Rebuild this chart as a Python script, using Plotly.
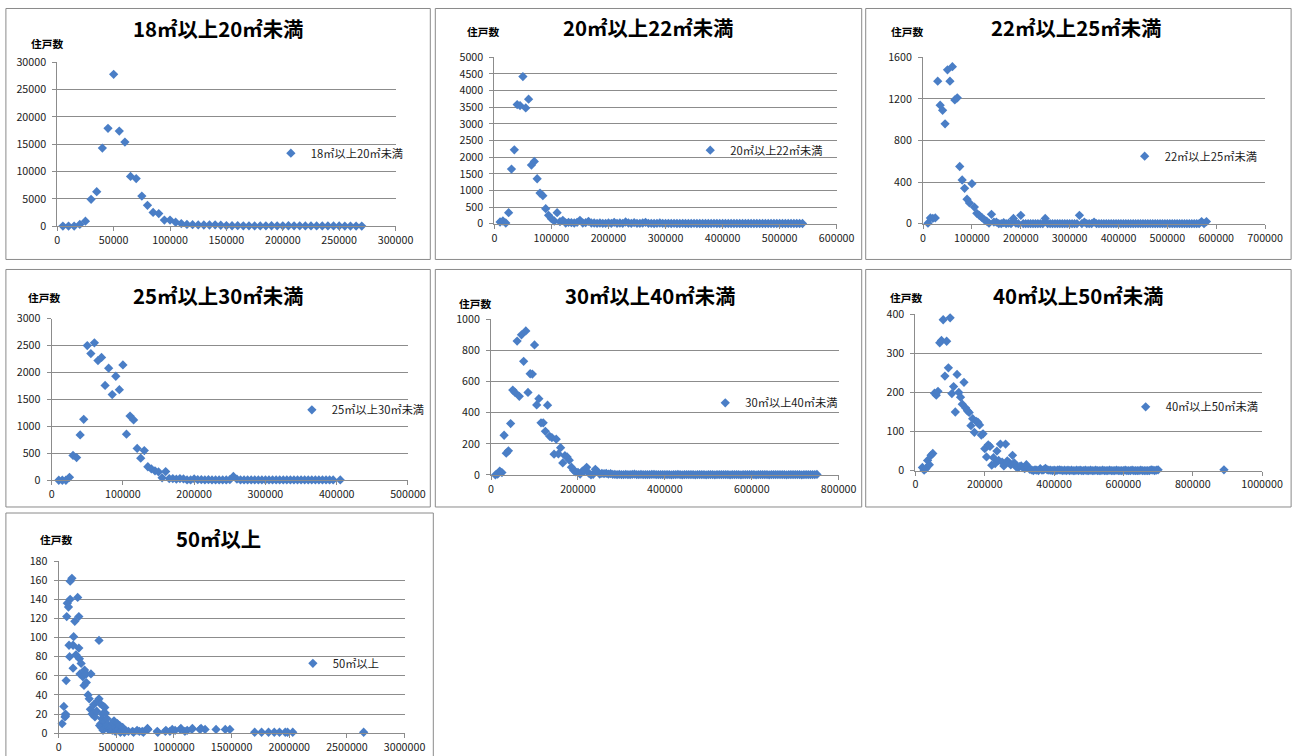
import plotly.graph_objects as go

# ---------------- data ----------------
TITLES = ["18㎡以上20㎡未満", "20㎡以上22㎡未満", "22㎡以上25㎡未満",
          "25㎡以上30㎡未満", "30㎡以上40㎡未満", "40㎡以上50㎡未満", "50㎡以上"]
Y_LABEL = "住戸数"

P1_X = [5000, 10000, 15000, 20000, 25000, 30000, 35000, 40000, 45000, 50000,
        55000, 60000, 65000, 70000, 75000, 80000, 85000, 90000, 95000, 100000,
        105000, 110000, 115000, 120000, 125000, 130000, 135000, 140000, 145000, 150000,
        155000, 160000, 165000, 170000, 175000, 180000, 185000, 190000, 195000, 200000,
        205000, 210000, 215000, 220000, 225000, 230000, 235000, 240000, 245000, 250000,
        255000, 260000, 265000, 270000]
P1_Y = [0, 0, 0, 300, 900, 4900, 6300, 14300, 17900, 27800,
        17400, 15400, 9100, 8700, 5500, 3800, 2500, 2300, 1100, 1100,
        700, 450, 300, 250, 220, 200, 200, 240, 150, 100,
        60, 80, 50, 40, 30, 30, 40, 60, 40, 40,
        60, 50, 40, 30, 30, 30, 20, 20, 20, 20,
        10, 10, 10, 10]

P2_X = [10000, 15000, 20000, 25000, 30000, 35000, 40000, 45000, 50000, 55000,
        60000, 65000, 70000, 75000, 80000, 85000, 90000, 95000, 100000, 105000,
        110000, 115000, 120000, 125000, 130000, 135000, 140000, 145000, 150000, 155000,
        160000, 165000, 170000, 175000, 180000, 185000, 190000, 195000, 200000, 205000,
        210000, 215000, 220000, 225000, 230000, 235000, 240000, 245000, 250000, 255000,
        260000, 265000, 270000, 275000, 280000, 285000, 290000, 295000, 300000, 305000,
        310000, 315000, 320000, 325000, 330000, 335000, 340000, 345000, 350000, 355000,
        360000, 365000, 370000, 375000, 380000, 385000, 390000, 395000, 400000, 405000,
        410000, 415000, 420000, 425000, 430000, 435000, 440000, 445000, 450000, 455000,
        460000, 465000, 470000, 475000, 480000, 485000, 490000, 495000, 500000, 505000,
        510000, 515000, 520000, 525000, 530000, 535000, 540000]
P2_Y = [50, 80, 20, 330, 1640, 2220, 3580, 3550, 4420, 3480,
        3740, 1760, 1870, 1350, 920, 840, 450, 250, 150, 80,
        330, 60, 100, 20, 40, 30, 20, 40, 100, 20,
        30, 70, 20, 20, 10, 20, 10, 10, 20, 10,
        40, 10, 20, 10, 50, 20, 10, 30, 10, 10,
        20, 40, 10, 10, 5, 10, 20, 10, 5, 10,
        5, 10, 5, 5, 10, 5, 5, 5, 10, 5,
        5, 5, 5, 5, 5, 10, 5, 5, 5, 5,
        5, 5, 5, 5, 5, 5, 5, 5, 5, 5,
        5, 5, 5, 5, 5, 5, 5, 5, 5, 5,
        5, 5, 5, 5, 5, 5, 5]

P3_X = [10000, 15000, 20000, 25000, 30000, 35000, 40000, 45000, 50000, 55000,
        60000, 65000, 70000, 75000, 80000, 85000, 90000, 95000, 100000, 105000,
        110000, 115000, 120000, 125000, 130000, 135000, 140000, 145000, 150000, 155000,
        160000, 165000, 170000, 175000, 180000, 185000, 190000, 195000, 200000, 205000,
        210000, 215000, 220000, 225000, 230000, 235000, 240000, 245000, 250000, 255000,
        260000, 265000, 270000, 275000, 280000, 285000, 290000, 295000, 300000, 305000,
        310000, 315000, 320000, 325000, 330000, 335000, 340000, 345000, 350000, 355000,
        360000, 365000, 370000, 375000, 380000, 385000, 390000, 395000, 400000, 405000,
        410000, 415000, 420000, 425000, 430000, 435000, 440000, 445000, 450000, 455000,
        460000, 465000, 470000, 475000, 480000, 485000, 490000, 495000, 500000, 505000,
        510000, 515000, 520000, 525000, 530000, 535000, 540000, 545000, 550000, 555000,
        560000, 565000, 570000, 575000, 580000]
P3_Y = [5, 55, 50, 55, 1370, 1140, 1090, 960, 1480, 1370,
        1510, 1190, 1210, 550, 420, 340, 235, 200, 385, 160,
        100, 80, 60, 40, 25, 5, 90, 15, 15, 0,
        0, 10, 0, 5, 0, 50, 5, 0, 80, 0,
        0, 0, 0, 0, 0, 0, 0, 0, 50, 0,
        0, 0, 0, 0, 0, 0, 0, 0, 0, 0,
        0, 0, 80, 0, 15, 0, 0, 0, 15, 0,
        0, 0, 0, 0, 0, 0, 0, 0, 0, 0,
        0, 0, 0, 0, 0, 0, 0, 0, 0, 0,
        0, 0, 0, 0, 0, 0, 0, 0, 0, 0,
        0, 0, 0, 0, 0, 0, 0, 0, 0, 0,
        0, 0, 20, 0, 20]

P4_X = [10000, 15000, 20000, 25000, 30000, 35000, 40000, 45000, 50000, 55000,
        60000, 65000, 70000, 75000, 80000, 85000, 90000, 95000, 100000, 105000,
        110000, 115000, 120000, 125000, 130000, 135000, 140000, 145000, 150000, 155000,
        160000, 165000, 170000, 175000, 180000, 185000, 190000, 195000, 200000, 205000,
        210000, 215000, 220000, 225000, 230000, 235000, 240000, 245000, 250000, 255000,
        260000, 265000, 270000, 275000, 280000, 285000, 290000, 295000, 300000, 305000,
        310000, 315000, 320000, 325000, 330000, 335000, 340000, 345000, 350000, 355000,
        360000, 365000, 370000, 375000, 380000, 385000, 390000, 395000,
        405000]
P4_Y = [0, 0, 0, 55, 460, 420, 840, 1130, 2500, 2350,
        2550, 2220, 2280, 1760, 2080, 1590, 1930, 1680, 2140, 855,
        1190, 1120, 590, 410, 550, 250, 210, 175, 155, 45,
        160, 30, 30, 20, 30, 25, 5, 5, 25, 10,
        10, 5, 10, 5, 5, 5, 5, 5, 10, 70,
        20, 5, 5, 5, 5, 5, 5, 5, 5, 5,
        5, 5, 5, 5, 5, 5, 5, 5, 5, 5,
        5, 5, 5, 5, 5, 5, 5, 5,
        5]

P5_X = [10000, 15000, 20000, 25000, 30000, 35000, 40000, 45000, 50000, 55000,
        60000, 65000, 70000, 75000, 80000, 85000, 90000, 95000, 100000, 105000,
        110000, 115000, 120000, 125000, 130000, 135000, 140000, 145000, 150000, 155000,
        160000, 165000, 170000, 175000, 180000, 185000, 190000, 195000, 200000, 205000,
        210000, 215000, 220000, 225000, 230000, 235000, 240000, 245000, 250000, 255000,
        260000, 265000, 270000, 275000, 280000, 285000, 290000, 295000, 300000, 305000,
        310000, 315000, 320000, 325000, 330000, 335000, 340000, 345000, 350000, 355000,
        360000, 365000, 370000, 375000, 380000, 385000, 390000, 395000, 400000, 405000,
        410000, 415000, 420000, 425000, 430000, 435000, 440000, 445000, 450000, 455000,
        460000, 465000, 470000, 475000, 480000, 485000, 490000, 495000, 500000, 505000,
        510000, 515000, 520000, 525000, 530000, 535000, 540000, 545000, 550000, 555000,
        560000, 565000, 570000, 575000, 580000, 585000, 590000, 595000, 600000, 605000,
        610000, 615000, 620000, 625000, 630000, 635000, 640000, 645000, 650000, 655000,
        660000, 665000, 670000, 675000, 680000, 685000, 690000, 695000, 700000, 705000,
        710000, 715000, 720000, 725000, 730000, 735000, 740000, 745000, 750000]
P5_Y = [0, 5, 25, 15, 255, 140, 155, 330, 545, 530,
        860, 505, 900, 730, 925, 530, 650, 648, 835, 450,
        490, 335, 335, 280, 448, 248, 240, 133, 230, 135,
        175, 77, 124, 116, 95, 50, 30, 19, 17, 6,
        24, 26, 49, 11, 0, 4, 36, 21, 6, 10,
        8, 10, 5, 8, 4, 3, 2, 3, 2, 2,
        3, 2, 2, 3, 5, 2, 2, 3, 2, 2,
        2, 2, 3, 4, 2, 2, 2, 2, 2, 2,
        2, 1, 2, 2, 3, 2, 1, 2, 2, 2,
        2, 2, 1, 2, 2, 2, 2, 1, 2, 2,
        2, 1, 2, 2, 2, 2, 2, 2, 1, 2,
        2, 2, 2, 1, 2, 2, 2, 2, 2, 2,
        1, 2, 2, 2, 2, 2, 1, 2, 2, 2,
        2, 2, 2, 2, 1, 2, 2, 2, 2, 2,
        2, 1, 2, 2, 2, 2, 2, 2, 3]

P6_X = [20000, 25000, 30000, 35000, 40000, 45000, 50000, 55000, 60000, 65000,
        70000, 75000, 80000, 85000, 90000, 95000, 100000, 105000, 110000, 115000,
        120000, 125000, 130000, 135000, 140000, 145000, 150000, 155000, 160000, 165000,
        170000, 175000, 180000, 185000, 190000, 195000, 200000, 205000, 210000, 215000,
        220000, 225000, 230000, 235000, 240000, 245000, 250000, 255000, 260000, 265000,
        270000, 275000, 280000, 285000, 290000, 295000, 300000, 305000, 310000, 315000,
        320000, 325000, 330000, 335000, 340000, 345000, 350000, 355000, 360000, 365000,
        370000, 375000, 380000, 385000, 390000, 395000, 400000, 405000, 410000, 415000,
        420000, 425000, 430000, 435000, 440000, 445000, 450000, 455000, 460000, 465000,
        470000, 475000, 480000, 485000, 490000, 495000, 500000, 505000, 510000, 515000,
        520000, 525000, 530000, 535000, 540000, 545000, 550000, 555000, 560000, 565000,
        570000, 575000, 580000, 585000, 590000, 595000, 600000, 605000, 610000, 615000,
        620000, 625000, 630000, 635000, 640000, 645000, 650000, 655000, 660000, 665000,
        670000, 675000, 680000, 685000, 690000, 695000, 700000,
        890000]
P6_Y = [8, 1, 5, 26, 15, 39, 44, 198, 193, 203,
        327, 333, 386, 242, 331, 263, 391, 197, 215, 150,
        246, 200, 188, 170, 226, 160, 153, 149, 115, 133,
        98, 126, 124, 117, 91, 94, 56, 35, 66, 62,
        14, 33, 18, 50, 26, 68, 22, 12, 68, 25,
        20, 15, 39, 20, 10, 8, 10, 12, 8, 5,
        15, 8, 3, 2, 0, 2, 1, 0, 5, 1,
        2, 6, 2, 1, 1, 0, 1, 0, 1, 2,
        1, 0, 1, 0, 1, 0, 1, 0, 0, 1,
        0, 1, 0, 0, 1, 0, 0, 1, 0, 0,
        1, 0, 0, 0, 1, 0, 0, 0, 1, 0,
        0, 0, 1, 0, 0, 0, 0, 1, 0, 0,
        0, 1, 0, 0, 0, 0, 1, 0, 0, 0,
        0, 0, 2, 1, 0, 1, 2,
        2]

P7_X = [30000, 45000, 55000, 60000, 60000, 65000, 70000, 75000, 85000, 90000,
        95000, 100000, 100000, 115000, 125000, 125000, 130000, 140000, 150000, 165000,
        175000, 175000, 180000, 185000, 195000, 210000, 220000, 225000, 240000, 240000,
        255000, 265000, 275000, 280000, 290000, 305000, 315000, 330000, 340000, 350000,
        350000, 355000, 360000, 365000, 370000, 375000, 380000, 385000, 390000, 395000,
        400000, 405000, 410000, 415000, 420000, 425000, 430000, 435000, 445000, 450000,
        460000, 465000, 470000, 480000, 490000, 495000, 505000, 510000, 520000, 530000,
        535000, 540000, 555000, 570000, 580000, 605000, 640000, 650000, 680000, 700000,
        725000, 735000, 770000, 775000, 855000, 860000, 925000, 930000, 965000, 985000,
        1010000, 1055000, 1060000, 1095000, 1115000, 1155000, 1160000, 1225000, 1235000, 1270000,
        1365000, 1445000, 1485000, 1700000, 1760000, 1820000, 1870000, 1915000, 1965000, 1985000,
        2030000, 2645000]
P7_Y = [10, 28, 17, 20, 18, 55, 122, 136, 132, 92,
        80, 140, 159, 162, 68, 92, 101, 117, 82, 142,
        122, 89, 78, 62, 73, 59, 50, 66, 53, 62,
        40, 36, 25, 62, 20, 30, 17, 23, 34, 97,
        36, 8, 31, 10, 6, 15, 20, 3, 28, 12,
        27, 21, 11, 7, 15, 9, 4, 6, 4, 5,
        7, 3, 11, 13, 2, 6, 3, 10, 4, 8,
        1, 2, 6, 1, 3, 2, 2, 1, 3, 2,
        2, 1, 5, 4, 2, 1, 2, 3, 2, 4,
        3, 4, 5, 2, 3, 4, 5, 4, 5, 4,
        4, 4, 4, 1, 1, 1, 1, 1, 1, 1,
        1, 1]

SERIES = [(P1_X, P1_Y), (P2_X, P2_Y), (P3_X, P3_Y), (P4_X, P4_Y),
          (P5_X, P5_Y), (P6_X, P6_Y), (P7_X, P7_Y)]
for sx, sy in SERIES:
    if len(sx) != len(sy):
        raise ValueError(f"length mismatch {len(sx)} {len(sy)}")

# axis ranges / tick steps (x range, x step, y range, y step)
AXES = [(300000, 50000, 30000, 5000),
        (600000, 100000, 5000, 500),
        (700000, 100000, 1600, 400),
        (500000, 100000, 3000, 500),
        (800000, 200000, 1000, 200),
        (1000000, 200000, 400, 100),
        (3000000, 500000, 180, 20)]

# ---------------- layout geometry (target pixels) ----------------
W, H = 1292, 756
# the photographed page shows a small scale/offset; positions below are
# target-picture pixels and are mapped back into page pixels
SX, OX, SY, OY = 0.9805, 3.1, 0.978, 8.1


def fx(p):
    return (p - OX) / SX


def fy(p):
    return (p - OY) / SY


FS = 1 / 0.98   # font scale compensation

# plot area: x0, x1, y_top, y_bottom
PLOTS = [(57.3, 395.3, 62.3, 225.7),
         (494.0, 836.0, 57.3, 223.3),
         (922.3, 1264.0, 57.3, 223.3),
         (51.7, 407.7, 318.0, 479.3),
         (490.7, 838.0, 318.7, 474.0),
         (914.7, 1261.0, 313.7, 469.7),
         (58.7, 404.3, 560.0, 731.7)]
BOXES = [(6, 5, 430, 259), (435, 5, 861, 259), (865, 5, 1290, 259),
         (6, 269, 430, 506), (435, 269, 861, 506), (865, 269, 1290, 506),
         (6, 512, 433, 790)]
TITLE_POS = [(218, 28), (647, 27), (1075, 27), (218, 294), (649, 294), (1077, 294), (218, 537)]
YLAB_POS = [(47, 44), (483, 32), (906, 32), (44, 297), (475, 303), (905, 297), (56, 538)]
LEG_POS = [(306, 153), (725, 150), (1159, 156), (327, 409), (740, 402), (1160, 406), (328, 662)]

BLUE = "#4a7ec6"
GRID = "#8c8c8c"
FONT = "Noto Sans CJK JP"

fig = go.Figure()
layout = dict(width=W, height=H, autosize=False,
              margin=dict(l=0, r=0, t=0, b=0),
              paper_bgcolor="white", plot_bgcolor="white",
              font=dict(family=FONT, color="#1a1a1a"),
              shapes=[], annotations=[])


def ydom(ytop, ybot):
    return [max(0.0, 1 - fy(ybot) / H), min(1.0, 1 - fy(ytop) / H)]


for i in range(7):
    n = "" if i == 0 else str(i + 1)
    sx, sy = SERIES[i]
    xmax, xstep, ymax, ystep = AXES[i]
    x0, x1, yt, yb = PLOTS[i]
    legname = "legend" + n
    fig.add_trace(go.Scatter(
        x=sx, y=sy, mode="markers", name=TITLES[i],
        marker=dict(symbol="diamond", size=7 * FS, color=BLUE, line=dict(width=0)),
        xaxis="x" + n, yaxis="y" + n, legend=legname, cliponaxis=False,
        showlegend=True, hoverinfo="x+y"))
    tickfont = dict(size=10.5 * FS, family=FONT, color="#1a1a1a")
    layout["xaxis" + n] = dict(
        domain=[fx(x0) / W, fx(x1) / W], range=[0, xmax], anchor="y" + n,
        tick0=0, dtick=xstep, tickformat="d", showgrid=False, zeroline=False,
        showline=True, linecolor=GRID, linewidth=1,
        ticks="outside", ticklen=4, tickcolor=GRID, tickwidth=1,
        tickfont=tickfont, fixedrange=True)
    layout["yaxis" + n] = dict(
        domain=ydom(yt, yb), range=[0, ymax], anchor="x" + n,
        tick0=0, dtick=ystep, tickformat="d", showgrid=True, gridcolor=GRID,
        gridwidth=1, zeroline=False, showline=True, linecolor=GRID, linewidth=1,
        ticks="outside", ticklen=4, tickcolor=GRID, tickwidth=1,
        ticklabelstandoff=4, tickfont=tickfont, fixedrange=True)
    bx0, by0, bx1, by1 = BOXES[i]
    top = max(0.5, fy(by0))
    layout["shapes"].append(dict(
        type="rect", xref="paper", yref="paper",
        x0=fx(bx0) / W, x1=fx(bx1) / W, y0=1 - fy(by1) / H, y1=1 - top / H,
        line=dict(color="#8a8a8a", width=1), fillcolor="rgba(0,0,0,0)", layer="below"))
    tx, ty = TITLE_POS[i]
    layout["annotations"].append(dict(
        text="<b>" + TITLES[i] + "</b>", x=fx(tx) / W, y=1 - fy(ty) / H,
        xref="paper", yref="paper", xanchor="center", yanchor="middle", showarrow=False,
        font=dict(size=20 * FS, family=FONT, color="#000000")))
    lx, ly = YLAB_POS[i]
    layout["annotations"].append(dict(
        text="<b>" + Y_LABEL + "</b>", x=fx(lx) / W, y=1 - fy(ly) / H,
        xref="paper", yref="paper", xanchor="center", yanchor="middle", showarrow=False,
        font=dict(size=10.5 * FS, family=FONT, color="#000000")))
    gx, gy = LEG_POS[i]
    layout[legname] = dict(
        x=(fx(gx) - 36) / W, y=1 - fy(gy) / H, xanchor="left", yanchor="middle",
        xref="paper", yref="paper", bgcolor="rgba(0,0,0,0)", borderwidth=0,
        font=dict(size=11 * FS, family=FONT, color="#1a1a1a"),
        itemclick=False, itemdoubleclick=False)

fig.update_layout(**layout)
fig.write_html(
    "out.html", config={"displayModeBar": False},
    post_script=(
        "document.documentElement.style.margin='0';"
        "document.body.style.margin='0';document.body.style.padding='0';"))
